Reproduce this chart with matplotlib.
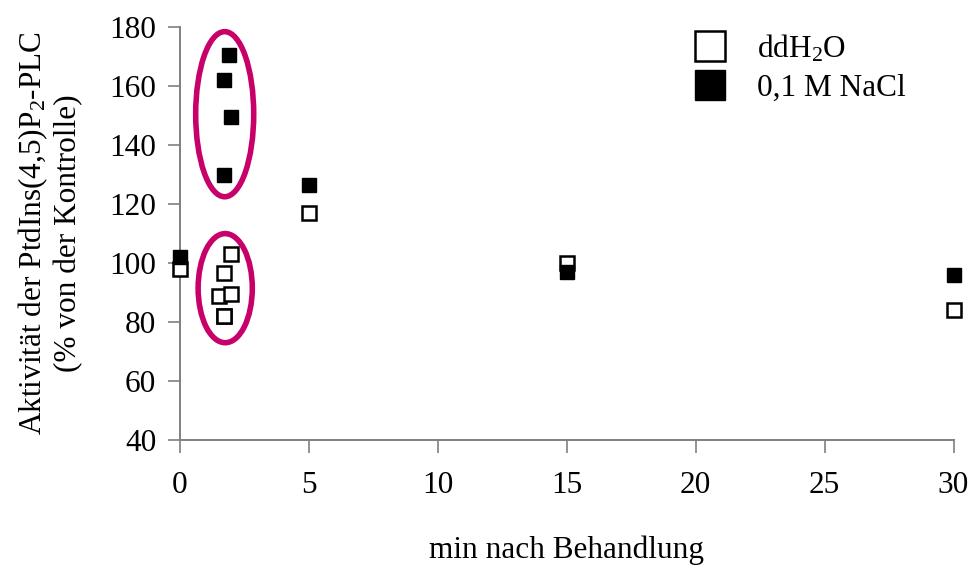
import matplotlib.pyplot as plt
from matplotlib.patches import Ellipse

plt.rcParams['font.family'] = ['Liberation Serif', 'DejaVu Serif']
plt.rcParams['mathtext.default'] = 'regular'

# ddH2O (open squares)
water_x = [0, 1.7, 2.0, 1.7, 1.5, 2.0, 1.7, 5, 15, 30]
water_y = [98, 82, 103, 96.5, 89, 89.5, 82, 117, 100, 84]

# 0,1 M NaCl (filled squares)
nacl_x = [0, 1.9, 1.7, 2.0, 1.7, 5, 15, 30]
nacl_y = [102, 170.5, 162, 149.5, 130, 126.5, 97, 96]

xticks = [0, 5, 10, 15, 20, 25, 30]
yticks = [40, 60, 80, 100, 120, 140, 160, 180]

fs = 22.5

fig = plt.figure(figsize=(9.72, 5.67), dpi=100)
ax = fig.add_axes([0.185, 0.224, 0.796, 0.728])

ax.plot(water_x, water_y, 's', ms=10.5, mfc='white', mec='black', mew=1.8,
        clip_on=False, label='ddH$_2$O', zorder=3)
ax.plot(nacl_x, nacl_y, 's', ms=10.5, mfc='black', mec='black', mew=1.0,
        clip_on=False, label='0,1 M NaCl', zorder=3)

# highlight the early time point clusters
ring = '#c8006a'
ax.add_patch(Ellipse((1.74, 150.5), 2.25, 56, fill=False, ec=ring, lw=4, zorder=2))
ax.add_patch(Ellipse((1.76, 91.5), 2.1, 37, fill=False, ec=ring, lw=4, zorder=2))

ax.set_xlim(0, 30)
ax.set_ylim(40, 180)
ax.set_xticks(xticks)
ax.set_yticks(yticks)
ax.tick_params(direction='out', length=9, width=1.2, color='#808080',
               labelsize=fs)
ax.tick_params(axis='x', pad=13)
ax.tick_params(axis='y', pad=8)
for side in ['top', 'right']:
    ax.spines[side].set_visible(False)
for side in ['left', 'bottom']:
    ax.spines[side].set_color('#808080')
    ax.spines[side].set_linewidth(1.4)

ax.set_xlabel('min nach Behandlung', fontsize=fs, labelpad=26)
ax.set_ylabel('Aktivität der PtdIns(4,5)P$_2$-PLC\n(% von der Kontrolle)',
              fontsize=fs, labelpad=19, linespacing=1.15)

leg = ax.legend(loc='upper left', bbox_to_anchor=(0.629, 1.055), frameon=False,
                fontsize=fs, markerscale=2.1, handlelength=1.0,
                handletextpad=1.0, labelspacing=0.3)

fig.savefig('out.png', dpi=100)
